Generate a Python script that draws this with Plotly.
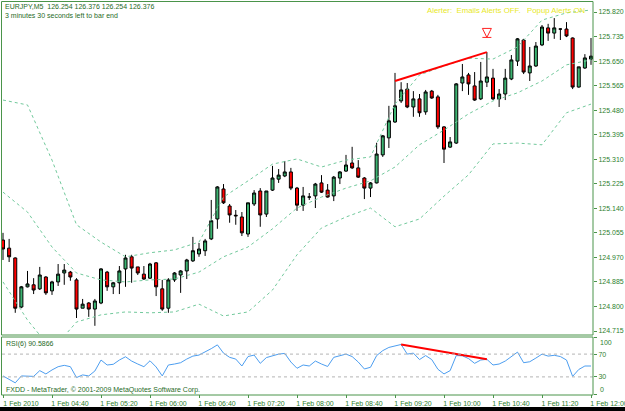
import pandas as pd
import plotly.graph_objects as go

# ---------------- data ----------------
opens = [125.030,125.002,124.968,124.798,124.868,124.875,124.861,124.902,124.854,124.885,
         124.916,124.919,124.892,124.794,124.812,124.791,124.812,124.919,124.868,124.882,
         124.930,124.972,124.937,124.912,124.898,124.951,124.861,124.794,124.892,124.909,
         124.923,124.958,124.982,124.993,125.034,125.103,125.207,125.148,125.116,125.110,
         125.051,125.155,125.200,125.120,125.203,125.241,125.252,125.266,125.210,125.151,
         125.179,125.183,125.228,125.203,125.183,125.245,125.269,125.297,125.280,125.245,
         125.210,125.228,125.325,125.384,125.439,125.512,125.553,125.491,125.519,125.474,
         125.546,125.526,125.422,125.352,125.366,125.574,125.602,125.564,125.519,125.577,
         125.591,125.519,125.536,125.588,125.650,125.723,125.609,125.633,125.706,125.765,
         125.747,125.761,125.761,125.730,125.560,125.626,125.657]
highs = [125.055,125.034,124.970,124.871,124.923,124.898,124.937,124.905,124.889,124.947,
         124.947,124.923,124.898,124.826,124.815,124.826,124.933,124.923,124.885,124.940,
         124.979,124.979,124.937,124.940,124.951,124.954,124.892,124.898,124.919,124.926,
         124.965,125.041,125.020,125.034,125.169,125.217,125.224,125.155,125.134,125.127,
         125.159,125.203,125.210,125.200,125.287,125.276,125.304,125.280,125.214,125.214,
         125.193,125.228,125.255,125.224,125.252,125.269,125.325,125.353,125.307,125.248,
         125.231,125.367,125.394,125.495,125.609,125.577,125.574,125.546,125.536,125.550,
         125.550,125.533,125.425,125.387,125.574,125.640,125.609,125.612,125.647,125.681,
         125.623,125.553,125.623,125.671,125.730,125.727,125.699,125.716,125.775,125.779,
         125.799,125.763,125.785,125.732,125.630,125.674,125.730]
lows = [124.961,124.954,124.778,124.794,124.866,124.843,124.857,124.840,124.840,124.871,
        124.875,124.889,124.760,124.794,124.764,124.733,124.808,124.854,124.843,124.843,
        124.868,124.882,124.909,124.892,124.895,124.836,124.785,124.778,124.885,124.847,
        124.895,124.954,124.972,124.975,125.030,125.069,125.155,125.090,125.083,125.044,
        125.041,125.148,125.076,125.110,125.200,125.228,125.248,125.203,125.131,125.131,
        125.169,125.141,125.193,125.177,125.165,125.224,125.266,125.276,125.245,125.172,
        125.179,125.226,125.318,125.349,125.436,125.505,125.487,125.457,125.457,125.464,
        125.519,125.415,125.297,125.349,125.363,125.546,125.533,125.512,125.515,125.560,
        125.515,125.491,125.515,125.584,125.633,125.605,125.581,125.630,125.702,125.720,
        125.727,125.723,125.733,125.553,125.558,125.623,125.637]
closes = [124.999,124.972,124.794,124.868,124.878,124.857,124.909,124.847,124.885,124.912,
          124.926,124.902,124.791,124.808,124.791,124.819,124.930,124.868,124.882,124.923,
          124.968,124.933,124.916,124.895,124.947,124.868,124.791,124.892,124.916,124.923,
          124.961,124.993,124.999,125.027,125.097,125.214,125.159,125.117,125.114,125.055,
          125.159,125.193,125.117,125.200,125.245,125.255,125.266,125.210,125.151,125.183,
          125.179,125.224,125.196,125.179,125.248,125.266,125.290,125.280,125.248,125.210,
          125.228,125.328,125.391,125.443,125.495,125.550,125.491,125.519,125.471,125.543,
          125.522,125.422,125.345,125.370,125.571,125.595,125.571,125.515,125.581,125.595,
          125.519,125.536,125.591,125.654,125.727,125.612,125.633,125.702,125.768,125.747,
          125.765,125.761,125.737,125.560,125.630,125.661,125.667]

rsi = [31.7,25.3,19.6,31.7,31.2,30.9,41.0,35.2,42.2,47.9,
       50.3,47.9,28.8,33.5,31.7,40.4,59.6,50.9,52.1,59.6,
       65.3,57.8,52.6,47.9,58.3,47.4,31.7,50.9,52.6,54.9,
       61.3,66.5,68.3,73.5,79.6,86.2,71.7,64.3,61.3,49.1,
       65.7,68.3,53.8,63.9,67.4,70.0,71.2,56.1,45.1,50.9,
       49.1,57.8,52.6,48.3,64.3,67.4,70.0,65.7,56.1,43.9,
       46.9,67.4,76.1,81.7,84.8,86.9,70.0,71.7,60.4,67.4,
       60.4,43.4,35.2,41.0,67.4,67.0,62.2,53.8,59.6,60.8,
       50.9,52.6,57.8,65.7,73.5,54.9,56.6,63.0,70.0,66.5,
       67.9,65.7,59.6,30.9,43.0,49.1,49.1]

band_idx = [0,4,8,12,16,20,24,28,32,36,40,44,48,52,56,60,64,68,72,76,80,84,88,92,96]
bb_upper = [125.515,125.498,125.307,125.083,125.023,124.972,124.986,124.996,125.023,125.179,
            125.235,125.293,125.311,125.283,125.307,125.318,125.501,125.602,125.633,125.660,
            125.657,125.699,125.792,125.817,125.827]
bb_middle = [125.196,125.127,125.006,124.916,124.892,124.885,124.892,124.895,124.919,124.972,
             125.006,125.069,125.141,125.179,125.210,125.235,125.283,125.360,125.411,125.467,
             125.512,125.540,125.581,125.637,125.654]
bb_lower = [124.885,124.753,124.649,124.746,124.771,124.781,124.778,124.781,124.808,124.767,
            124.781,124.857,124.979,125.072,125.110,125.141,125.076,125.103,125.182,125.256,
            125.363,125.366,125.360,125.471,125.501]

price_trend_idx = [64, 79]
price_trend = [125.581, 125.681]
rsi_trend_idx = [65, 79]
rsi_trend = [86.9, 60.8]
arrow_idx = 79
arrow_price = 125.732
rsi_levels = [70, 30]

price_ticks = [124.715,124.800,124.885,124.970,125.055,125.140,125.225,125.310,
               125.395,125.480,125.565,125.650,125.735,125.820]
rsi_ticks = [100, 70, 30, 0]
rsi_inner_labels = ["70", "30"]
rsi_edge_labels = ["100", "0"]
time_tick_idx = [0,8,16,24,32,40,48,56,64,72,80,88,96]
time_labels = ["1 Feb 2010","1 Feb 04:40","1 Feb 05:20","1 Feb 06:00","1 Feb 06:40",
               "1 Feb 07:20","1 Feb 08:00","1 Feb 08:40","1 Feb 09:20","1 Feb 10:00",
               "1 Feb 10:40","1 Feb 11:20","1 Feb 12:00"]

NB = "\u00a0"
header1 = "EURJPY,M5" + NB * 2 + "126.254 126.376 126.254 126.376"
header2 = "3 minutes 30 seconds left to bar end"
alert_text = "Alerter:" + NB * 2 + "Emails Alerts OFF." + NB * 3 + "Popup Alerts ON"
rsi_label = "RSI(6) 90.5866"
copyright_text = "FXDD - MetaTrader, \u00a9 2001-2009 MetaQuotes Software Corp."

# ---------------- figure ----------------
W, H = 625, 411
def px(x): return x / W
def py(y): return 1 - y / H

start = pd.Timestamp("2010-02-01 04:00")
step = pd.Timedelta(minutes=5)
def t(i): return start + i * step
times = [t(i) for i in range(len(opens))]

FONT = "Liberation Sans"
FS = 7
GREEN = "#2f7f2f"
DARK = "#1f6b1f"
FRAME = "#4a944a"

fig = go.Figure()
for band in (bb_upper, bb_middle, bb_lower):
    fig.add_trace(go.Scatter(x=[t(i) for i in band_idx], y=band, mode="lines",
                             line=dict(color="#72c99c", width=1, dash="dot"),
                             hoverinfo="skip"))
fig.add_trace(go.Candlestick(
    x=times, open=opens, high=highs, low=lows, close=closes,
    increasing=dict(line=dict(color="#000000", width=1), fillcolor="#3cb371"),
    decreasing=dict(line=dict(color="#000000", width=1), fillcolor="#ff0000"),
))
fig.add_trace(go.Scatter(x=[t(i) for i in price_trend_idx], y=price_trend, mode="lines",
                         line=dict(color="#ff0000", width=2)))
fig.add_trace(go.Scatter(x=[t(arrow_idx)], y=[arrow_price], mode="markers",
                         marker=dict(symbol="arrow-bar-down-open", size=9, color="#ff2020",
                                     line=dict(color="#ff2020", width=1))))
fig.add_trace(go.Scatter(x=times, y=rsi, yaxis="y2", mode="lines",
                         line=dict(color="#4d9ef0", width=1)))
fig.add_trace(go.Scatter(x=[t(i) for i in rsi_trend_idx], y=rsi_trend, yaxis="y2",
                         mode="lines", line=dict(color="#ff0000", width=2)))

shapes = []
for lv in rsi_levels:
    shapes.append(dict(type="line", xref="paper", yref="y2", x0=px(2), x1=px(593),
                       y0=lv, y1=lv, line=dict(color="#b4b4b4", width=1, dash="dot")))
shapes.append(dict(type="rect", xref="paper", yref="paper", x0=px(1.5), x1=px(593),
                   y0=py(335), y1=py(1.5), line=dict(color=FRAME, width=1)))
shapes.append(dict(type="rect", xref="paper", yref="paper", x0=px(1.5), x1=px(593),
                   y0=py(395), y1=py(337), line=dict(color=FRAME, width=1)))
shapes.append(dict(type="rect", xref="paper", yref="paper", x0=0, x1=1,
                   y0=0, y1=py(407), fillcolor="#000000", line=dict(width=0)))

def ann(text, x, y, color, size=FS, anchor="left"):
    return dict(text=text, x=px(x), y=py(y), xref="paper", yref="paper",
                xanchor=anchor, yanchor="middle", showarrow=False,
                font=dict(family=FONT, size=size, color=color))

annotations = [
    ann(header1, 3, 7, DARK),
    ann(header2, 3, 16, DARK),
    ann(alert_text, 425, 11, "#e8e81e", size=7.8),
    ann(rsi_label, 4, 344, DARK),
    ann(copyright_text, 4, 390, DARK),
    ann(rsi_edge_labels[0], 598, 342, GREEN),
    ann(rsi_edge_labels[1], 598, 389, GREEN),
]

x0 = start - step * (1 / 6.125)
x1 = start + step * (590 / 6.125)

fig.update_layout(
    width=W, height=H, autosize=False,
    margin=dict(l=0, r=0, t=0, b=0, autoexpand=False),
    paper_bgcolor="white", plot_bgcolor="white",
    showlegend=False,
    font=dict(family=FONT, size=FS, color=GREEN),
    shapes=shapes, annotations=annotations,
    xaxis=dict(domain=[px(2), px(593)], range=[x0, x1], anchor="y2",
               tickvals=[t(i) for i in time_tick_idx], ticktext=time_labels,
               ticks="outside", ticklen=3, tickcolor=FRAME,
               tickfont=dict(family=FONT, size=FS, color=GREEN),
               ticklabelshift=18, ticklabeloverflow="allow", automargin=False,
               showgrid=False, zeroline=False, showline=False,
               rangeslider=dict(visible=False)),
    yaxis=dict(domain=[py(334), py(3)], range=[124.7046, 125.8512], side="right",
               anchor="x", tickvals=price_ticks,
               ticktext=["%.3f" % v for v in price_ticks],
               ticks="outside", ticklen=3, tickcolor=FRAME,
               tickfont=dict(family=FONT, size=FS, color=GREEN),
               automargin=False,
               showgrid=False, zeroline=False, showline=False),
    yaxis2=dict(domain=[py(394), py(337)], range=[0, 100], side="right",
                anchor="x", tickvals=rsi_ticks,
                ticktext=[""] + rsi_inner_labels + [""],
                ticks="outside", ticklen=3, tickcolor=FRAME,
                tickfont=dict(family=FONT, size=FS, color=GREEN),
                automargin=False,
                showgrid=False, zeroline=False, showline=False),
)

fig.write_html("out.html")
